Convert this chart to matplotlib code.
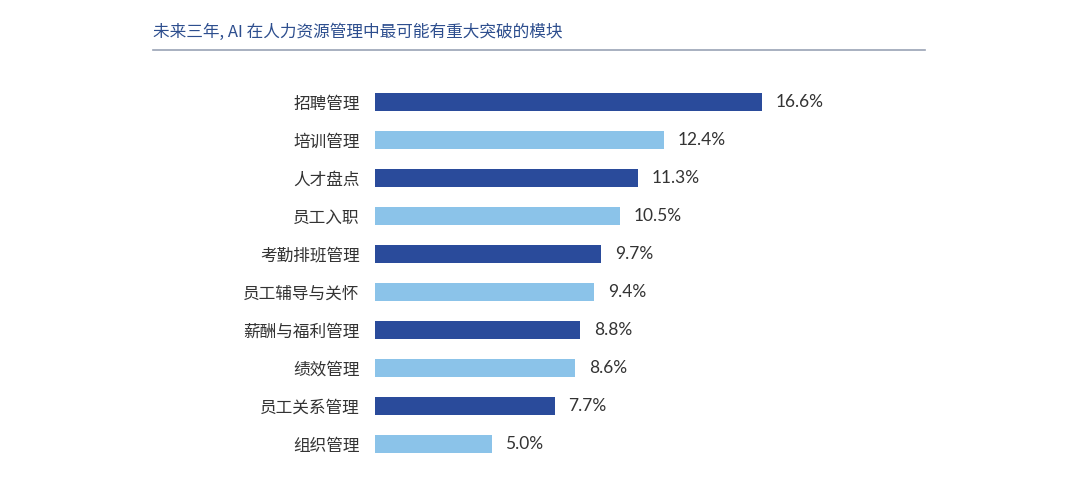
import matplotlib
matplotlib.use("Agg")
import matplotlib.pyplot as plt
from matplotlib.lines import Line2D

plt.rcParams['font.family'] = ['Noto Sans CJK SC', 'DejaVu Sans']

# data
categories = ['招聘管理', '培训管理', '人才盘点', '员工入职', '考勤排班管理',
              '员工辅导与关怀', '薪酬与福利管理', '绩效管理', '员工关系管理', '组织管理']
values = [16.6, 12.4, 11.3, 10.5, 9.7, 9.4, 8.8, 8.6, 7.7, 5.0]
title = '未来三年, AI 在人力资源管理中最可能有重大突破的模块'

dark = '#2A4B9B'
light = '#8BC3E9'
colors = [dark if i % 2 == 0 else light for i in range(len(values))]

W, H = 1080, 498
fig = plt.figure(figsize=(W/100, H/100), dpi=100)

# axes placed in pixel terms
px_per_unit = (762 - 375) / 16.6
xmax = 20
ax = fig.add_axes([375/W, (H-463)/H, xmax*px_per_unit/W, 380/H])
ypos = list(range(len(values)))
ax.barh(ypos, values, height=0.47, color=colors)
ax.set_xlim(0, xmax)
ax.set_ylim(len(values)-0.5, -0.5)
for s in ax.spines.values():
    s.set_visible(False)
ax.set_xticks([])
ax.set_yticks(ypos)
ax.set_yticklabels(categories, fontsize=12, color='#333333')
ax.tick_params(axis='y', length=0, pad=11)

for y, v in zip(ypos, values):
    ax.text(v + 0.58, y, f'{v:.1f}%', va='center', ha='left',
            fontsize=12.5, color='#333333', family=['Lato', 'DejaVu Sans'])

fig.text(153/W, 1 - 32/H, title, fontsize=12, color='#2D4E8E',
         va='center', ha='left')
fig.add_artist(Line2D([153/W, 925/W], [1 - 50/H, 1 - 50/H],
                      color='#9AA3B5', linewidth=1.2))

fig.savefig('out.png', dpi=100, facecolor='white')
